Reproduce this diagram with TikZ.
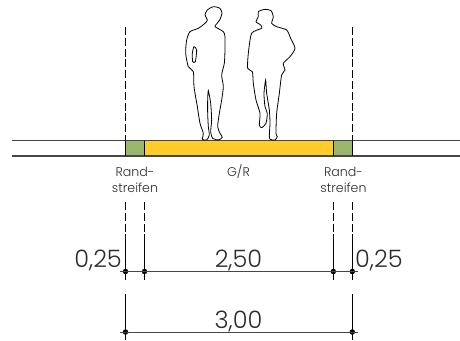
\documentclass[tikz,border=0pt]{standalone}
\usepackage{fontspec}
\setmainfont{Poppins Light}
\definecolor{roadline}{RGB}{70,70,70}
\definecolor{gelb}{RGB}{255,204,41}
\definecolor{gruen}{RGB}{155,183,105}
\definecolor{txt}{RGB}{45,45,45}
\tikzset{
  small/.style={font=\fontsize{12.6}{16}\selectfont,text=txt,align=center,inner sep=0pt},
  big/.style={font=\fontsize{24}{24}\selectfont,text=txt,inner sep=0pt},
  road/.style={line width=1.2pt,draw=roadline},
  ext/.style={line width=0.9pt,draw=black},
  edge/.style={line width=1.2pt,draw=black},
  dsh/.style={ext,dash pattern=on 8pt off 2.8pt},
  dim/.style={line width=0.8pt,draw=roadline},
  dot/.style={circle,fill=black,inner sep=0pt,minimum size=5.5pt},
  person/.style={line width=0.8pt,draw=black,fill=white,smooth cycle,tension=0.4}
}
\begin{document}
\begin{tikzpicture}[x=1pt,y=-1pt]
\useasboundingbox (0,0) rectangle (460,340);
% road
\coordinate (rl) at (12,140.7); \coordinate (rr) at (460,140.7);
\coordinate (bl) at (12,156); \coordinate (br) at (460,156);
\fill[gruen] (125.5,140.7) rectangle (144.5,156);
\fill[gruen] (333.3,140.7) rectangle (352.3,156);
\fill[gelb] (144.5,140.7) rectangle (333.3,156);
\draw[road] (rl) -- (rr);
\draw[road] (bl) -- (br);
% people
\begin{scope}[shift={(170,0)},x=0.3333pt,y=-0.3333pt]
\draw[person] plot coordinates {(130,20)(150,25)(156,40)(150,58)(140,72)(135,80)(160,95)(165,110)(165,150)(163,190)(155,225)(160,260)(155,300)(148,340)(143,380)(150,400)(157,412)(145,420)(128,415)(122,395)(125,360)(122,310)(115,272)(113,300)(113,340)(115,380)(118,405)(110,420)(97,418)(100,400)(90,370)(82,320)(72,260)(70,215)(55,200)(47,160)(50,120)(60,95)(85,85)(105,70)(112,60)(105,45)(112,30)};
\draw[person] plot coordinates {(72,140)(80,150)(76,185)(68,185)(67,160)};
\draw[person] plot coordinates {(265,35)(285,28)(303,32)(310,50)(305,70)(320,80)(350,90)(362,115)(375,145)(360,170)(340,190)(345,210)(335,225)(328,280)(320,340)(318,400)(322,410)(315,420)(300,418)(298,405)(300,370)(298,330)(290,280)(287,240)(282,280)(285,320)(292,340)(288,370)(275,383)(268,375)(270,340)(258,300)(250,250)(247,215)(233,205)(235,160)(245,100)(275,85)(272,75)(258,65)(265,50)};
\end{scope}
% road verticals
\coordinate (a1) at (125.5,140.7); \coordinate (a2) at (125.5,156);
\coordinate (b1) at (144.5,140.7); \coordinate (b2) at (144.5,156);
\coordinate (c1) at (333.3,140.7); \coordinate (c2) at (333.3,156);
\coordinate (d1) at (352.3,140.7); \coordinate (d2) at (352.3,156);
\draw[edge] (a1) -- (a2); \draw[edge] (b1) -- (b2);
\draw[edge] (c1) -- (c2); \draw[edge] (d1) -- (d2);
% upper dashed
\coordinate (at) at (125.5,27); \coordinate (dt) at (352.3,27);
\draw[dsh] (at) -- (a1);
\draw[dsh] (dt) -- (d1);
% labels
\node[small] (l1) at (135,180) {Rand-\\streifen};
\node[small] (l2) at (238.5,172) {G/R};
\node[small] (l3) at (343.5,180) {Rand-\\streifen};
% dimension points
\node[dot] (p1) at (125.5,271.5) {};
\node[dot] (p2) at (144.5,271.5) {};
\node[dot] (p3) at (333.3,271.5) {};
\node[dot] (p4) at (352.3,271.5) {};
\node[dot] (q1) at (125.5,332) {};
\node[dot] (q4) at (352.3,332) {};
% extension lines
\coordinate (e1) at (125.5,202); \coordinate (e1m) at (125.5,234); \coordinate (e1b) at (125.5,280);
\coordinate (e2) at (144.5,202); \coordinate (e2m) at (144.5,234); \coordinate (e2b) at (144.5,280);
\coordinate (e3) at (333.3,202); \coordinate (e3m) at (333.3,234); \coordinate (e3b) at (333.3,280);
\coordinate (e4) at (352.3,202); \coordinate (e4m) at (352.3,234); \coordinate (e4b) at (352.3,280);
\draw[dsh] (e1) -- (e1m); \draw[ext] (e1m) -- (e1b);
\draw[dsh] (e2) -- (e2m); \draw[ext] (e2m) -- (e2b);
\draw[dsh] (e3) -- (e3m); \draw[ext] (e3m) -- (e3b);
\draw[dsh] (e4) -- (e4m); \draw[ext] (e4m) -- (e4b);
\coordinate (f1) at (125.5,294); \coordinate (f1b) at (125.5,340);
\coordinate (f4) at (352.3,294); \coordinate (f4b) at (352.3,340);
\draw[ext] (f1) -- (f1b); \draw[ext] (f4) -- (f4b);
% dimension lines
\coordinate (p0) at (120,271.5); \coordinate (p5) at (358,271.5);
\coordinate (q0) at (120,332); \coordinate (q5) at (358,332);
\draw[dim] (p0) -- (p5);
\draw[dim] (q0) -- (q5);
% numbers
\node[big,anchor=east] (n1) at (122,260) {0,25};
\node[big] (n2) at (238.5,260) {2,50};
\node[big,anchor=west] (n3) at (355,260) {0,25};
\node[big] (n4) at (238.5,321) {3,00};
\end{tikzpicture}
\end{document}
